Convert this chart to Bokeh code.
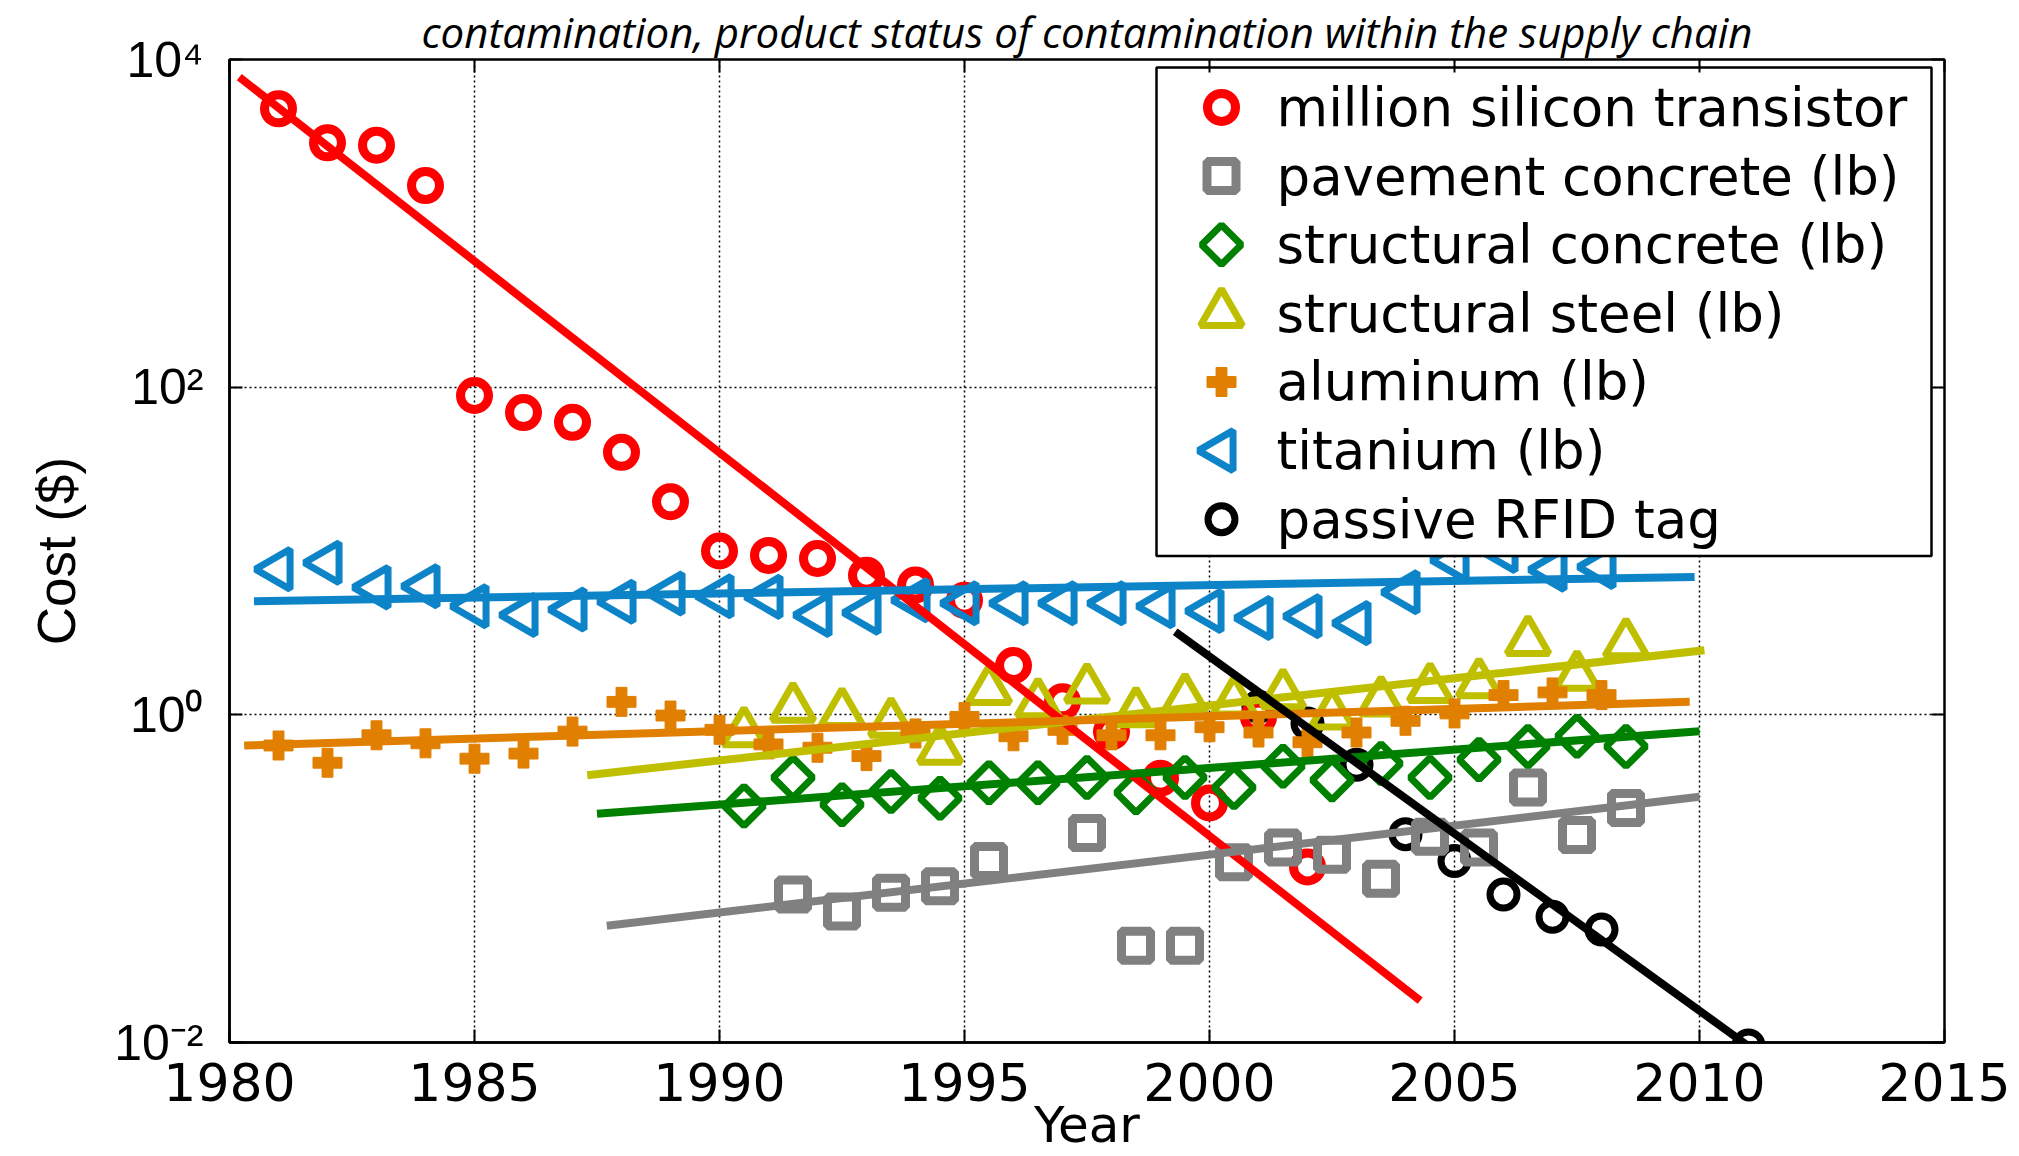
import numpy as np
from bokeh.plotting import figure
from bokeh.models import (FixedTicker, LinearAxis, LogAxis, Range1d, LinearScale,
                          CustomJSTickFormatter)
from bokeh.core.properties import value
from bokeh.embed import file_html
from bokeh.resources import INLINE

# ---------------- data ----------------
names = ["million silicon transistor", "pavement concrete (lb)", "structural concrete (lb)",
         "structural steel (lb)", "aluminum (lb)", "titanium (lb)", "passive RFID tag"]

si_year = [1981, 1982, 1983, 1984, 1985, 1986, 1987, 1988, 1989, 1990, 1991,
           1992, 1993, 1994, 1995, 1996, 1997, 1998, 1999, 2000, 2001, 2002]
si_cost = [5000, 3100, 3000, 1700, 89, 70, 61, 40, 20, 10, 9.4,
           9.0, 7.1, 6.2, 5.0, 2.0, 1.2, 0.79, 0.41, 0.29, 0.97, 0.118]

pave_year = [1991.5, 1992.5, 1993.5, 1994.5, 1995.5, 1997.5, 1998.5, 1999.5, 2000.5,
             2001.5, 2002.5, 2003.5, 2004.5, 2005.5, 2006.5, 2007.5, 2008.5]
pave_cost = [0.08, 0.063, 0.082, 0.09, 0.128, 0.19, 0.039, 0.039, 0.126,
             0.155, 0.14, 0.10, 0.18, 0.155, 0.36, 0.185, 0.27]

sconc_year = [1990.5, 1991.5, 1992.5, 1993.5, 1994.5, 1995.5, 1996.5, 1997.5, 1998.5, 1999.5,
              2000.5, 2001.5, 2002.5, 2003.5, 2004.5, 2005.5, 2006.5, 2007.5, 2008.5]
sconc_cost = [0.278, 0.414, 0.283, 0.34, 0.31, 0.385, 0.385, 0.414, 0.335, 0.414,
              0.36, 0.486, 0.40, 0.505, 0.414, 0.533, 0.64, 0.74, 0.64]

steel_year = [1990.5, 1991.5, 1992.5, 1993.5, 1994.5, 1995.5, 1996.5, 1997.5, 1998.5, 1999.5,
              2000.5, 2001.5, 2002.5, 2003.5, 2004.5, 2005.5, 2006.5, 2007.5, 2008.5]
steel_cost = [0.78, 1.1, 1.02, 0.89, 0.61, 1.41, 1.17, 1.44, 1.03, 1.25,
              1.2, 1.33, 1.0, 1.2, 1.45, 1.55, 2.81, 1.72, 2.72]

alu_year = list(range(1981, 2009))
alu_cost = [0.65, 0.51, 0.75, 0.67, 0.54, 0.58, 0.79, 1.2, 0.99, 0.81, 0.66, 0.63, 0.56, 0.77,
            0.97, 0.74, 0.81, 0.75, 0.75, 0.84, 0.78, 0.68, 0.78, 0.92, 1.02, 1.32, 1.37, 1.32]

ti_year = list(range(1981, 2009))
ti_cost = [7.74, 8.48, 6.0, 6.1, 4.6, 4.07, 4.4, 4.9, 5.5, 5.3, 5.25, 4.07, 4.2, 5.0,
           4.8, 4.8, 4.8, 4.8, 4.6, 4.3, 3.9, 4.0, 3.63, 5.6, 8.8, 10.0, 7.7, 8.0]

rfid_year = [2001, 2002, 2003, 2004, 2005, 2006, 2007, 2008, 2011]
rfid_cost = [1.12, 0.885, 0.496, 0.187, 0.128, 0.080, 0.0586, 0.049, 0.0096]

# fitted trend lines (end points)
si_fit_x, si_fit_y = [1980.2, 2004.3], [7800, 0.018]
pave_fit_x, pave_fit_y = [1987.7, 2010.0], [0.0516, 0.316]
sconc_fit_x, sconc_fit_y = [1987.5, 2010.0], [0.249, 0.794]
steel_fit_x, steel_fit_y = [1987.3, 2010.1], [0.428, 2.48]
alu_fit_x, alu_fit_y = [1980.3, 2009.8], [0.65, 1.2]
ti_fit_x, ti_fit_y = [1980.5, 2009.9], [4.93, 6.95]
rfid_fit_x, rfid_fit_y = [1999.3, 2011.0], [3.21, 0.0095]

x_ticks = [1980, 1985, 1990, 1995, 2000, 2005, 2010, 2015]
y_ticks = [1e-2, 1e0, 1e2, 1e4]
y_tick_labels = ["10\u207b\u00b2", "10\u2070", "10\u00b2", "10\u2074"]
top_text = "contamination, product status of contamination within the supply chain"

# ---------------- styles ----------------
RED, GRAY, GREEN, YELLOW = "#FF0000", "#808080", "#008000", "#BFBF00"
ORANGE, BLUE, BLACK = "#E07F00", "#0E84C8", "#000000"

styles = [
    dict(marker="circle", size=28, line_width=9, line_color=RED, fill_color=None, angle=0),
    dict(marker="square", size=29, line_width=9, line_color=GRAY, fill_color=None, angle=0),
    dict(marker="square", size=28, line_width=7, line_color=GREEN, fill_color=None, angle=np.pi / 4),
    dict(marker="triangle", size=42, line_width=7, line_color=YELLOW, fill_color=None, angle=0),
    dict(marker="plus", size=29, line_width=1, line_color=ORANGE, fill_color=ORANGE, angle=0),
    dict(marker="triangle", size=40, line_width=7, line_color=BLUE, fill_color=None, angle=np.pi / 2),
    dict(marker="circle", size=27, line_width=7, line_color=BLACK, fill_color=None, angle=0),
]
colors = [RED, GRAY, GREEN, YELLOW, ORANGE, BLUE, BLACK]
points = [(si_year, si_cost), (pave_year, pave_cost), (sconc_year, sconc_cost),
          (steel_year, steel_cost), (alu_year, alu_cost), (ti_year, ti_cost), (rfid_year, rfid_cost)]
fits = [(si_fit_x, si_fit_y), (pave_fit_x, pave_fit_y), (sconc_fit_x, sconc_fit_y),
        (steel_fit_x, steel_fit_y), (alu_fit_x, alu_fit_y), (ti_fit_x, ti_fit_y), (rfid_fit_x, rfid_fit_y)]

W, H = 2019, 1156
BL, BR, BT, BB = 229, 75, 59, 113
FW, FH = W - BL - BR, H - BT - BB

p = figure(width=W, height=H,
           x_range=Range1d(1980, 2015), y_range=Range1d(1e-2, 1e4), y_axis_type="log",
           output_backend="svg", toolbar_location=None,
           min_border_left=BL, min_border_right=BR, min_border_top=BT, min_border_bottom=BB)
p.background_fill_color = "white"
p.border_fill_color = "white"
p.outline_line_color = "black"
p.outline_line_width = 2.5

# slide text above the plot
p.title.text = top_text
p.title.align = "center"
p.title.text_font = "Open Sans"
p.title.text_font_style = "italic"
p.title.text_font_size = "42px"
p.title.text_color = "black"
p.title.standoff = 0
p.title.offset = 0

p.extra_x_ranges = {"leg": Range1d(0, FW)}
p.extra_y_ranges = {"leg": Range1d(0, FH)}
p.extra_x_scales = {"leg": LinearScale()}
p.extra_y_scales = {"leg": LinearScale()}

# axes
xa = p.xaxis[0]
xa.ticker = FixedTicker(ticks=x_ticks, minor_ticks=[])
xa.major_label_text_font = "DejaVu Sans"
xa.major_label_text_font_size = "52px"
xa.major_label_text_color = "black"
xa.major_label_standoff = 20
xa.axis_label = "Year"
xa.axis_label_text_font = "DejaVu Sans"
xa.axis_label_text_font_size = "50px"
xa.axis_label_text_font_style = "normal"
xa.axis_label_text_color = "black"
xa.axis_label_standoff = -8
ya = p.yaxis[0]
ya.ticker = FixedTicker(ticks=y_ticks, minor_ticks=[])
ya.major_label_overrides = {t: s for t, s in zip(y_ticks, y_tick_labels)}
ya.major_label_text_font = "Liberation Sans"
ya.major_label_text_font_size = "50px"
ya.major_label_text_color = "black"
ya.major_label_standoff = 26
ya.axis_label = "Cost ($)"
ya.axis_label_text_font = "Liberation Sans"
ya.axis_label_text_font_size = "53px"
ya.axis_label_text_font_style = "normal"
ya.axis_label_text_color = "black"
ya.axis_label_standoff = 25
for ax in (xa, ya):
    ax.axis_line_width = 2.5
    ax.axis_line_color = "black"
    ax.major_tick_in = 13
    ax.major_tick_out = 0
    ax.major_tick_line_width = 2
    ax.major_tick_line_color = "black"
    ax.minor_tick_line_color = None

top_ax = LinearAxis(ticker=FixedTicker(ticks=x_ticks, minor_ticks=[]),
                    formatter=CustomJSTickFormatter(code="return '';"))
right_ax = LogAxis(ticker=FixedTicker(ticks=y_ticks, minor_ticks=[]),
                   formatter=CustomJSTickFormatter(code="return '';"))
for ax in (top_ax, right_ax):
    ax.axis_line_color = None
    ax.major_tick_in = 13
    ax.major_tick_out = 0
    ax.major_tick_line_width = 2
    ax.major_tick_line_color = "black"
    ax.minor_tick_line_color = None
    ax.major_label_text_font_size = "0px"
    ax.major_label_standoff = 0
p.add_layout(top_ax, "above")
p.add_layout(right_ax, "right")

for g in (p.xgrid[0], p.ygrid[0]):
    g.grid_line_color = "black"
    g.grid_line_dash = "2 3"
    g.grid_line_width = 1.5
p.xgrid[0].ticker = FixedTicker(ticks=x_ticks)
p.ygrid[0].ticker = FixedTicker(ticks=y_ticks)

# data markers (RFID first so the others sit on top, as in the picture)
for i in [6, 0, 1, 2, 3, 4, 5]:
    xs, ys = points[i]
    p.scatter(xs, ys, **styles[i])
# trend lines
for i in range(7):
    fx, fy = fits[i]
    p.line(fx, fy, line_color=colors[i], line_width=8)

# legend (drawn in frame pixel space)
LX0, LX1, LYT, LYB = 927, 1702, 976, 487
ROW0, ROWH, MX, TX = 936, 68.7, 992, 1047
p.quad(left=[LX0], right=[LX1], top=[LYT], bottom=[LYB], fill_color="white",
       line_color="black", line_width=2.5, x_range_name="leg", y_range_name="leg")
for i in range(7):
    p.scatter([MX], [ROW0 - i * ROWH], x_range_name="leg", y_range_name="leg", **styles[i])
p.text(x=[TX] * 7, y=[ROW0 - i * ROWH for i in range(7)], text=names,
       x_range_name="leg", y_range_name="leg", text_font=value("DejaVu Sans"),
       text_font_size="53px", text_baseline="middle", text_align="left", text_color="black")

open("out.html", "w").write(file_html(p, INLINE))
